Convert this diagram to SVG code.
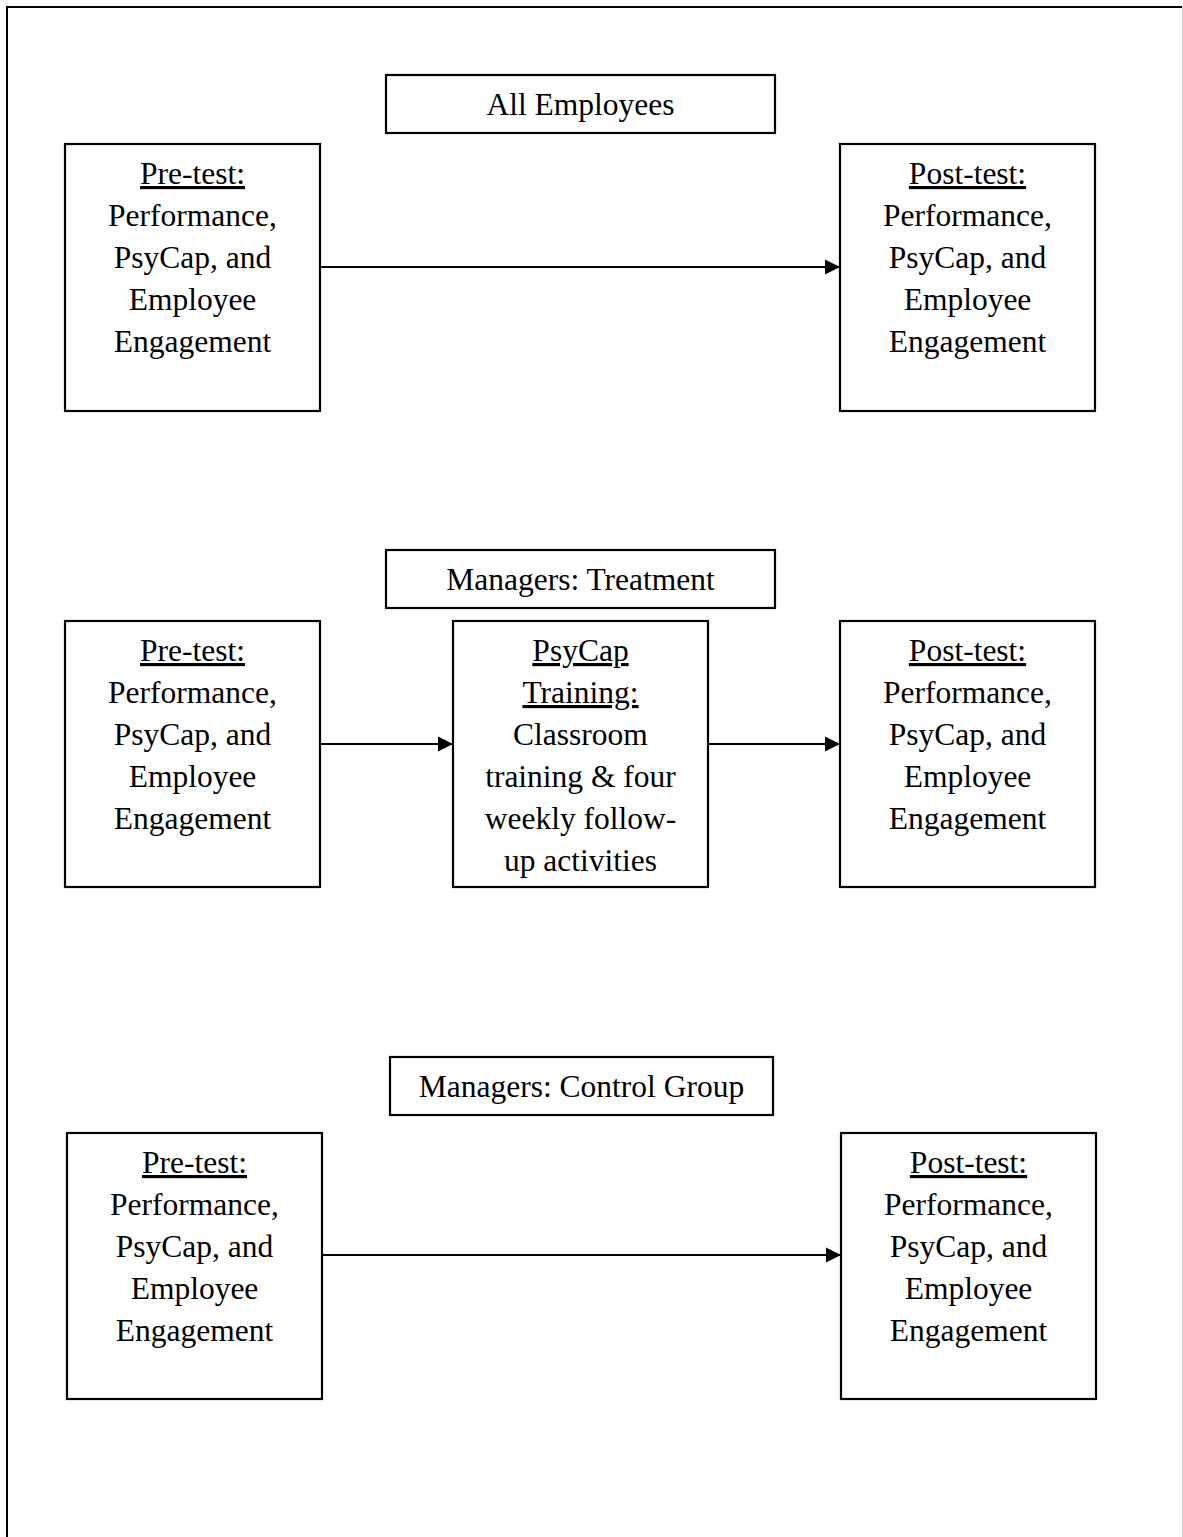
<svg xmlns="http://www.w3.org/2000/svg" width="1183" height="1537" viewBox="0 0 1183 1537">
<style>
.box{fill:#fff;stroke:#000;stroke-width:2.2}
.t{font-family:"Liberation Serif","Times New Roman",serif;font-size:31.5px;fill:#000;text-anchor:middle}
.u{text-decoration:underline}
.conn{stroke:#000;stroke-width:2.2;fill:none}
</style>
<defs>
<marker id="ah" markerUnits="userSpaceOnUse" markerWidth="16" markerHeight="16" refX="15" refY="8" orient="auto">
<path d="M0,0.5 L15,8 L0,15.5 Z" fill="#000"/>
</marker>
</defs>
<rect width="1183" height="1537" fill="#fff"/>
<g id="frame">
<path d="M7,1540 V7 H1182" fill="none" stroke="#000" stroke-width="2"/>
<line x1="1182.5" y1="7" x2="1182.5" y2="1537" stroke="#cfcfcf" stroke-width="1"/>
</g>

<g id="connectors">
<line class="conn" x1="320" y1="267" x2="840" y2="267" marker-end="url(#ah)"/>
<line class="conn" x1="320" y1="744" x2="453" y2="744" marker-end="url(#ah)"/>
<line class="conn" x1="708" y1="744" x2="840" y2="744" marker-end="url(#ah)"/>
<line class="conn" x1="322" y1="1255" x2="841" y2="1255" marker-end="url(#ah)"/>
</g>

<g id="title-all">
<rect class="box" x="386" y="75" width="389" height="58"/>
<text class="t" x="580.5" y="115">All Employees</text>
</g>
<g id="pre-all">
<rect class="box" x="65" y="144" width="255" height="267"/>
<text class="t" x="192.5" y="184"><tspan class="u">Pre-test:</tspan></text>
<text class="t" x="192.5" y="226">Performance,</text>
<text class="t" x="192.5" y="268">PsyCap, and</text>
<text class="t" x="192.5" y="310">Employee</text>
<text class="t" x="192.5" y="352">Engagement</text>
</g>
<g id="post-all">
<rect class="box" x="840" y="144" width="255" height="267"/>
<text class="t" x="967.5" y="184"><tspan class="u">Post-test:</tspan></text>
<text class="t" x="967.5" y="226">Performance,</text>
<text class="t" x="967.5" y="268">PsyCap, and</text>
<text class="t" x="967.5" y="310">Employee</text>
<text class="t" x="967.5" y="352">Engagement</text>
</g>

<g id="title-treatment">
<rect class="box" x="386" y="550" width="389" height="58"/>
<text class="t" x="580.5" y="590">Managers: Treatment</text>
</g>
<g id="pre-treatment">
<rect class="box" x="65" y="621" width="255" height="266"/>
<text class="t" x="192.5" y="661"><tspan class="u">Pre-test:</tspan></text>
<text class="t" x="192.5" y="703">Performance,</text>
<text class="t" x="192.5" y="745">PsyCap, and</text>
<text class="t" x="192.5" y="787">Employee</text>
<text class="t" x="192.5" y="829">Engagement</text>
</g>
<g id="training">
<rect class="box" x="453" y="621" width="255" height="266"/>
<text class="t" x="580.5" y="661"><tspan class="u">PsyCap</tspan></text>
<text class="t" x="580.5" y="703"><tspan class="u">Training:</tspan></text>
<text class="t" x="580.5" y="745">Classroom</text>
<text class="t" x="580.5" y="787">training &amp; four</text>
<text class="t" x="580.5" y="829">weekly follow-</text>
<text class="t" x="580.5" y="871">up activities</text>
</g>
<g id="post-treatment">
<rect class="box" x="840" y="621" width="255" height="266"/>
<text class="t" x="967.5" y="661"><tspan class="u">Post-test:</tspan></text>
<text class="t" x="967.5" y="703">Performance,</text>
<text class="t" x="967.5" y="745">PsyCap, and</text>
<text class="t" x="967.5" y="787">Employee</text>
<text class="t" x="967.5" y="829">Engagement</text>
</g>

<g id="title-control">
<rect class="box" x="390" y="1057" width="383" height="58"/>
<text class="t" x="581.5" y="1097">Managers: Control Group</text>
</g>
<g id="pre-control">
<rect class="box" x="67" y="1133" width="255" height="266"/>
<text class="t" x="194.5" y="1173"><tspan class="u">Pre-test:</tspan></text>
<text class="t" x="194.5" y="1215">Performance,</text>
<text class="t" x="194.5" y="1257">PsyCap, and</text>
<text class="t" x="194.5" y="1299">Employee</text>
<text class="t" x="194.5" y="1341">Engagement</text>
</g>
<g id="post-control">
<rect class="box" x="841" y="1133" width="255" height="266"/>
<text class="t" x="968.5" y="1173"><tspan class="u">Post-test:</tspan></text>
<text class="t" x="968.5" y="1215">Performance,</text>
<text class="t" x="968.5" y="1257">PsyCap, and</text>
<text class="t" x="968.5" y="1299">Employee</text>
<text class="t" x="968.5" y="1341">Engagement</text>
</g>
</svg>
